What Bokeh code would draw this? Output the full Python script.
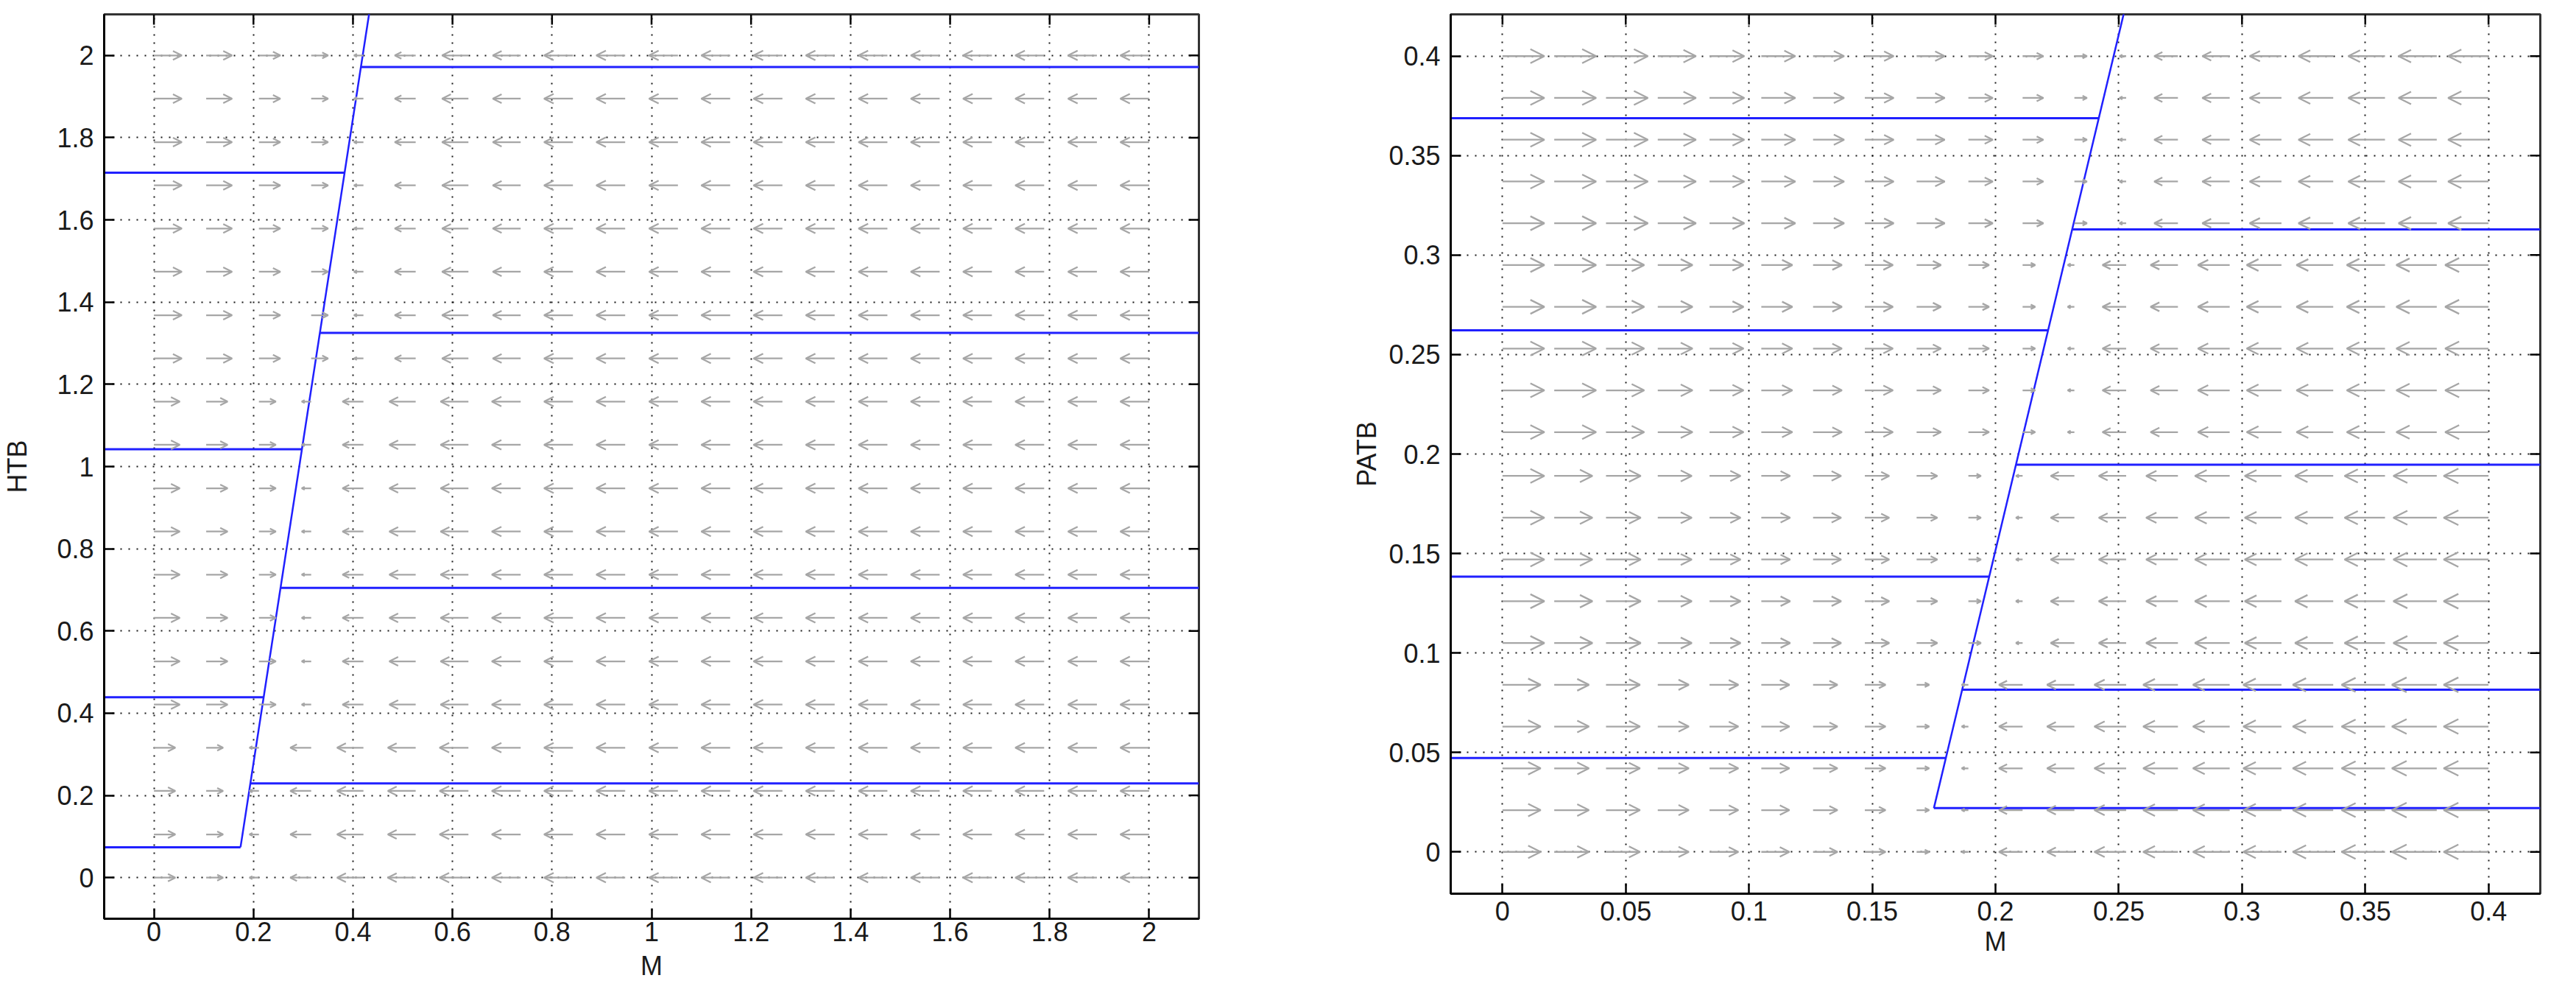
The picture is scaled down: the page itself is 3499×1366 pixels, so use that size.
import math
from bokeh.plotting import figure
from bokeh.layouts import row
from bokeh.models import Range1d, FixedTicker, Arrow, OpenHead, ColumnDataSource
from bokeh.embed import file_html
from bokeh.resources import INLINE

# ---------------- left panel: M vs HTB ----------------
htb_grid = [0.0, 0.105, 0.211, 0.316, 0.421, 0.526, 0.632, 0.737, 0.842, 0.947,
            1.053, 1.158, 1.263, 1.368, 1.474, 1.579, 1.684, 1.789, 1.895, 2.0]
# index of first column (per row) whose arrow points left
htb_first_left_col = [2, 2, 2, 2, 3, 3, 3, 3, 3, 3, 3, 3, 4, 4, 4, 4, 4, 4, 4, 4]
# arrow lengths (data units) by column distance from the nullcline
htb_len_right = [0.034, 0.043, 0.052, 0.056, 0.058]
htb_len_left = [0.019, 0.042, 0.053, 0.056, 0.058]
htb_null_m = [0.174, 0.445]
htb_null_h = [0.074, 2.2]
htb_in_h = [0.074, 0.439, 1.042, 1.715]
htb_in_m_end = [0.174, 0.2205, 0.2974, 0.3832]
htb_out_h = [0.229, 0.705, 1.325, 1.972]
htb_out_m_start = [0.1938, 0.2545, 0.3335, 0.416]
htb_ticks = [0, 0.2, 0.4, 0.6, 0.8, 1, 1.2, 1.4, 1.6, 1.8, 2]
htb_tick_labels = ["0", "0.2", "0.4", "0.6", "0.8", "1", "1.2", "1.4", "1.6", "1.8", "2"]
htb_range = (-0.1, 2.1)

# ---------------- right panel: M vs PATB ----------------
patb_grid = [0.0, 0.021, 0.042, 0.063, 0.084, 0.105, 0.126, 0.147, 0.168, 0.189,
             0.211, 0.232, 0.253, 0.274, 0.295, 0.316, 0.337, 0.358, 0.379, 0.4]
patb_first_left_col = [9, 9, 9, 9, 9, 10, 10, 10, 10, 10, 11, 11, 11, 11, 11, 12, 12, 12, 12, 12]
patb_len_right = [0.0051, 0.0084, 0.0099, 0.0114, 0.0117, 0.0126, 0.0138, 0.0141, 0.0155, 0.017]
patb_len_left = [0.0027, 0.0096, 0.0111, 0.0129, 0.0141, 0.0149, 0.0155, 0.0164, 0.0176, 0.0182]
patb_null_m = [0.175, 0.2537]
patb_null_p = [0.022, 0.43]
patb_in_p = [0.0472, 0.1384, 0.2622, 0.3688]
patb_in_m_end = [0.1799, 0.1975, 0.2214, 0.2419]
patb_out_p = [0.022, 0.0815, 0.1946, 0.3129]
patb_out_m_start = [0.175, 0.1865, 0.2083, 0.2311]
patb_ticks = [0, 0.05, 0.1, 0.15, 0.2, 0.25, 0.3, 0.35, 0.4]
patb_tick_labels = ["0", "0.05", "0.1", "0.15", "0.2", "0.25", "0.3", "0.35", "0.4"]
patb_range = (-0.021, 0.421)

BLUE = "#2020ff"
ARROW = "#a6a6a6"
FONT = "Liberation Sans"
FS = "36px"


def quiver(p, grid, first_left, len_r, len_l, px_per_unit):
    groups = {}
    for j, y in enumerate(grid):
        fl = first_left[j]
        for i, x in enumerate(grid):
            if i < fl:
                k = fl - 1 - i
                L = len_r[min(k, len(len_r) - 1)]
                x1 = x + L
            else:
                k = i - fl
                L = len_l[min(k, len(len_l) - 1)]
                x1 = x - L
            hs = max(4, int(round(0.33 * L * px_per_unit)))
            g = groups.setdefault(hs, dict(x0=[], y0=[], x1=[], y1=[]))
            g["x0"].append(x)
            g["y0"].append(y)
            g["x1"].append(x1)
            g["y1"].append(y)
    for hs, d in sorted(groups.items()):
        src = ColumnDataSource(d)
        p.add_layout(Arrow(end=OpenHead(size=hs, line_color=ARROW, line_width=2.3),
                           x_start="x0", y_start="y0", x_end="x1", y_end="y1",
                           source=src, line_color=ARROW, line_width=2.3))


def style(p, ticks, labels, rng, xlabel, ylabel, ylab_standoff, xlab_standoff, xlabel_offset):
    overrides = {t: l for t, l in zip(ticks, labels)}
    for ax in (p.xaxis[0], p.yaxis[0]):
        ax.ticker = FixedTicker(ticks=ticks)
        ax.major_label_overrides = overrides
        ax.major_tick_in = 14
        ax.major_tick_out = 0
        ax.minor_tick_line_color = None
        ax.major_tick_line_width = 2.5
        ax.major_tick_line_color = "black"
        ax.axis_line_width = 3
        ax.axis_line_color = "black"
        ax.major_label_text_font = FONT
        ax.major_label_text_font_size = FS
        ax.major_label_text_color = "#1a1a1a"
        ax.axis_label_text_font = FONT
        ax.axis_label_text_font_size = FS
        ax.axis_label_text_font_style = "normal"
        ax.axis_label_text_color = "#1a1a1a"
    p.xaxis[0].axis_label = xlabel
    p.yaxis[0].axis_label = ylabel
    p.yaxis[0].major_label_standoff = 14
    p.xaxis[0].major_label_standoff = xlabel_offset
    p.yaxis[0].axis_label_standoff = ylab_standoff
    p.xaxis[0].axis_label_standoff = xlab_standoff
    # inward ticks on the top and right edges of the box
    p.ray(x=ticks, y=[rng[1]] * len(ticks), length=14, length_units="screen",
          angle=-math.pi / 2, line_color="black", line_width=2.5)
    p.ray(x=[rng[1]] * len(ticks), y=ticks, length=14, length_units="screen",
          angle=math.pi, line_color="black", line_width=2.5)
    for g in (p.xgrid[0], p.ygrid[0]):
        g.ticker = FixedTicker(ticks=ticks)
        g.grid_line_color = "black"
        g.grid_line_dash = "2 9"
        g.grid_line_width = 2
        g.grid_line_alpha = 0.9
    p.outline_line_color = "#333333"
    p.outline_line_width = 3
    p.background_fill_color = "white"
    p.border_fill_color = "white"


# ---------------- left figure ----------------
p1 = figure(frame_width=1487, frame_height=1228, min_border_left=139, min_border_right=40,
            min_border_top=17, min_border_bottom=100,
            x_range=Range1d(*htb_range), y_range=Range1d(*htb_range),
            output_backend="svg", toolbar_location=None)
style(p1, htb_ticks, htb_tick_labels, htb_range, "M", "HTB", 30, 10, 4)
quiver(p1, htb_grid, htb_first_left_col, htb_len_right, htb_len_left,
       1487 / (htb_range[1] - htb_range[0]))
p1.segment(x0=[htb_range[0]] * len(htb_in_h), y0=htb_in_h, x1=htb_in_m_end, y1=htb_in_h,
           line_color=BLUE, line_width=3)
p1.segment(x0=htb_out_m_start, y0=htb_out_h, x1=[htb_range[1]] * len(htb_out_h), y1=htb_out_h,
           line_color=BLUE, line_width=3)
p1.line(htb_null_m, htb_null_h, line_color=BLUE, line_width=2.5)

# ---------------- right figure ----------------
p2 = figure(frame_width=1480, frame_height=1194, min_border_left=302, min_border_right=20,
            min_border_top=19, min_border_bottom=132,
            x_range=Range1d(*patb_range), y_range=Range1d(*patb_range),
            output_backend="svg", toolbar_location=None)
style(p2, patb_ticks, patb_tick_labels, patb_range, "M", "PATB", 6, 5, 10)
quiver(p2, patb_grid, patb_first_left_col, patb_len_right, patb_len_left,
       1480 / (patb_range[1] - patb_range[0]))
p2.segment(x0=[patb_range[0]] * len(patb_in_p), y0=patb_in_p, x1=patb_in_m_end, y1=patb_in_p,
           line_color=BLUE, line_width=3)
p2.segment(x0=patb_out_m_start, y0=patb_out_p, x1=[patb_range[1]] * len(patb_out_p), y1=patb_out_p,
           line_color=BLUE, line_width=3)
p2.line(patb_null_m, patb_null_p, line_color=BLUE, line_width=2.5)

layout = row(p1, p2)
open("out.html", "w").write(file_html(layout, INLINE))
